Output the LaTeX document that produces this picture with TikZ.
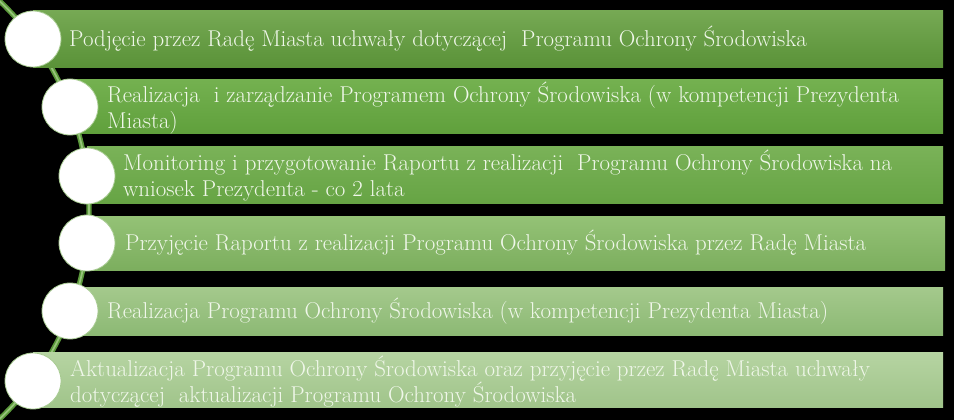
\documentclass[tikz,border=0pt]{standalone}
\usepackage{fontspec}
\definecolor{bAt}{HTML}{76A954}
\definecolor{bAb}{HTML}{5A9238}
\definecolor{bBt}{HTML}{74B150}
\definecolor{bBb}{HTML}{60A03C}
\definecolor{bCt}{HTML}{7AB258}
\definecolor{bCb}{HTML}{66A444}
\definecolor{bDt}{HTML}{94C276}
\definecolor{bDb}{HTML}{7CAE5E}
\definecolor{bEt}{HTML}{A4C98C}
\definecolor{bEb}{HTML}{8CB974}
\definecolor{bFt}{HTML}{B6D4A2}
\definecolor{bFb}{HTML}{A0C48A}
\definecolor{txtc}{HTML}{F0F7EA}
\definecolor{ringc}{HTML}{A8CB92}
\definecolor{lineout}{HTML}{5A983A}
\definecolor{linein}{HTML}{96C47A}
\begin{document}
\begin{tikzpicture}[x=1pt,y=-1pt,
  bar/.style={rectangle,inner sep=0pt,anchor=north west,draw=none},
  dot/.style={circle,minimum size=56pt,inner sep=0pt,fill=white,draw=ringc,line width=0.8pt},
  txt/.style={anchor=west,inner sep=0pt,align=left,text=txtc,font=\fontsize{22.9pt}{26pt}\selectfont},
  conn/.style={draw=lineout,line width=1.7pt,double=linein,double distance=1.8pt}]
\useasboundingbox[fill=black] (0,0) rectangle (954,420);
\begin{scope}
\clip (0,0) rectangle (954,420);
\coordinate (atop) at (-200,210);
\draw[conn] (atop) ++(-48:289) arc[start angle=-48,end angle=48,radius=289];
\end{scope}
\node[bar,minimum width=910pt,minimum height=57pt,top color=bAt,bottom color=bAb] (bar1) at (33,10) {};
\node[bar,minimum width=873pt,minimum height=54pt,top color=bBt,bottom color=bBb] (bar2) at (70,79) {};
\node[bar,minimum width=856pt,minimum height=57pt,top color=bCt,bottom color=bCb] (bar3) at (87,146) {};
\node[bar,minimum width=858pt,minimum height=54pt,top color=bDt,bottom color=bDb] (bar4) at (87,216) {};
\node[bar,minimum width=873pt,minimum height=48pt,top color=bEt,bottom color=bEb] (bar5) at (70,287) {};
\node[bar,minimum width=910pt,minimum height=55pt,top color=bFt,bottom color=bFb] (bar6) at (33,352) {};
\node[dot] (c1) at (33,39) {};
\node[dot] (c2) at (70,107) {};
\node[dot] (c3) at (87,176) {};
\node[dot] (c4) at (87,243) {};
\node[dot] (c5) at (70,311) {};
\node[dot] (c6) at (33,381) {};
\node[txt] (t1) at (69,39) {Podjęcie przez Radę Miasta uchwały dotyczącej\ \ Programu Ochrony Środowiska};
\node[txt] (t2) at (107,108) {Realizacja\ \ i zarządzanie Programem Ochrony Środowiska (w kompetencji Prezydenta\\Miasta)};
\node[txt] (t3) at (123,176) {Monitoring i przygotowanie Raportu z realizacji\ \ Programu Ochrony Środowiska na\\wniosek Prezydenta - co 2 lata};
\node[txt] (t4) at (125,243) {Przyjęcie Raportu z realizacji Programu Ochrony Środowiska przez Radę Miasta};
\node[txt] (t5) at (107,311) {Realizacja Programu Ochrony Środowiska (w kompetencji Prezydenta Miasta)};
\node[txt] (t6) at (70,382) {Aktualizacja Programu Ochrony Środowiska oraz przyjęcie przez Radę Miasta uchwały\\dotyczącej\ \ aktualizacji Programu Ochrony Środowiska};
\end{tikzpicture}
\end{document}
